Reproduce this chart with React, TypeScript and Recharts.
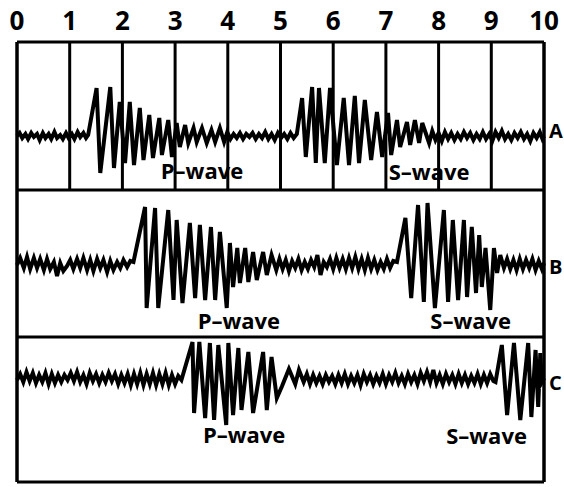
import { LineChart, Line, XAxis, YAxis, CartesianGrid, ReferenceLine, ReferenceDot } from "recharts";

// seconds along the top scale
const seconds = [0, 1, 2, 3, 4, 5, 6, 7, 8, 9, 10];

// station traces: [time (s), ground motion]
const stationA: [number, number][] = [
  [0, 0], [0.05, 3], [0.1, -2], [0.16, 2], [0.21, -3], [0.27, 3], [0.32, -1], [0.38, 2], [0.43, -4], [0.49, 3],
  [0.54, -2], [0.6, 2], [0.65, -3], [0.71, 4], [0.76, -2], [0.82, 1], [0.87, -3], [0.93, 3], [0.98, -2], [1.04, 2],
  [1.09, -3], [1.15, 4], [1.2, -1], [1.26, 3], [1.31, -2], [1.35, 1],
  // P-wave
  [1.51, 48], [1.58, -37], [1.77, 49], [1.84, -32], [1.95, 34], [2.05, -27], [2.14, 34], [2.22, -29], [2.33, 28],
  [2.4, -24], [2.51, 21], [2.58, -22], [2.7, 18], [2.75, -19], [2.87, 16], [2.94, -21], [3.03, 13], [3.09, -11],
  [3.19, 11], [3.25, -7], [3.35, 8], [3.41, -6], [3.51, 8], [3.6, -7], [3.69, 6], [3.76, -6], [3.85, 8], [3.93, -6],
  [3.99, 4], [4.05, -3], [4.11, 2], [4.17, -2], [4.23, 3], [4.29, -3], [4.35, 2], [4.41, -1], [4.47, 3], [4.53, -3],
  [4.59, 2], [4.65, -2], [4.71, 4], [4.77, -3], [4.83, 2], [4.89, -4], [4.95, 3], [5.01, -2], [5.07, 2], [5.13, -3],
  [5.19, 3], [5.25, -2], [5.31, 2],
  // S-wave
  [5.41, 38], [5.48, -21], [5.6, 49], [5.67, -27], [5.73, 48], [5.84, -27], [5.94, 48], [6.07, -29], [6.2, 38],
  [6.3, -29], [6.41, 40], [6.49, -27], [6.6, 36], [6.72, -24], [6.83, 24], [6.93, -21], [7.04, 23], [7.1, -19],
  [7.21, 16], [7.27, -11], [7.4, 14], [7.46, -9], [7.55, 16], [7.63, -7], [7.69, 13], [7.82, -7],
  [7.88, 5], [7.94, -4], [8.0, 3], [8.06, -5], [8.12, 4], [8.18, -3], [8.24, 3], [8.3, -4], [8.36, 2], [8.42, -3],
  [8.48, 4], [8.54, -2], [8.6, 3], [8.66, -4], [8.72, 2], [8.78, -3], [8.84, 4], [8.9, -3], [8.96, 2], [9.02, -5],
  [9.08, 4], [9.14, -2], [9.2, 5], [9.26, -3], [9.32, 2], [9.38, -4], [9.44, 3], [9.5, -2], [9.56, 4], [9.62, -3],
  [9.68, 2], [9.74, -5], [9.8, 3], [9.86, -2], [9.92, 4], [9.97, -3], [10, 0],
];

const stationB: [number, number][] = [
  [0, 0], [0.06, 7], [0.13, -3], [0.19, 8], [0.25, -4], [0.32, 7], [0.38, -3], [0.44, 6], [0.51, -5], [0.57, 6],
  [0.63, -4], [0.7, 3], [0.76, -11], [0.82, 2], [0.88, -6], [0.95, -1], [1.01, 5], [1.07, -4], [1.14, 6], [1.2, -3],
  [1.26, 7], [1.33, -5], [1.39, 5], [1.45, -6], [1.52, 6], [1.58, -3], [1.64, 5], [1.71, -7], [1.77, 4], [1.83, -5],
  [1.9, 3], [1.96, -3], [2.02, 5], [2.09, -2], [2.15, 4], [2.21, 3],
  // P-wave
  [2.43, 58], [2.46, -43], [2.62, 57], [2.68, -43], [2.87, 55], [2.97, -35], [3.03, 45], [3.14, -38], [3.28, 42],
  [3.38, -33], [3.47, 40], [3.57, -35], [3.68, 38], [3.76, -35], [3.85, 33], [3.98, -43], [4.04, 22], [4.1, -22],
  [4.18, 17], [4.23, -18], [4.33, 17], [4.39, -17], [4.48, 13], [4.55, -15], [4.67, 13], [4.74, -10], [4.83, 10],
  [4.92, -5], [4.98, 6], [5.04, -4], [5.1, 5], [5.16, -6], [5.22, 4], [5.28, -3], [5.34, 6], [5.4, -5], [5.46, 3],
  [5.52, -4], [5.58, 5], [5.64, -2], [5.7, 10], [5.76, -10], [5.82, 3], [5.88, -2], [5.94, 6], [6.0, -4], [6.06, 7],
  [6.12, -3], [6.18, 6], [6.24, -4], [6.3, 7], [6.36, -3], [6.42, 8], [6.48, -4], [6.54, 6], [6.6, -5], [6.66, 7],
  [6.72, -4], [6.78, 5], [6.84, -5], [6.9, 3], [6.96, -4], [7.02, 6], [7.08, -3], [7.14, 4], [7.21, 3],
  // S-wave
  [7.37, 47], [7.48, -33], [7.61, 60], [7.72, -37], [7.79, 62], [7.93, -43], [8.1, 55], [8.18, -37], [8.27, 45],
  [8.37, -35], [8.48, 45], [8.54, -32], [8.63, 38], [8.71, -28], [8.77, 30], [8.82, -22], [8.89, 17], [8.98, -45],
  [9.05, 17], [9.11, -8], [9.17, 10], [9.24, -3], [9.3, 6], [9.36, -4], [9.42, 5], [9.48, -5], [9.54, 6], [9.6, -4],
  [9.66, 5], [9.72, -3], [9.78, 6], [9.84, -5], [9.9, 4], [9.96, -4], [10, 2],
];

const stationC: [number, number][] = [
  [0, -2], [0.06, 4], [0.12, -4], [0.18, 6], [0.24, -3], [0.3, 5], [0.36, -5], [0.42, 3], [0.48, -4], [0.54, 5],
  [0.6, -6], [0.66, 4], [0.72, -5], [0.78, 3], [0.84, -4], [0.9, 3], [0.96, -2], [1.02, 5], [1.08, -3], [1.14, 6],
  [1.2, -4], [1.26, 3], [1.32, -6], [1.38, 5], [1.44, -3], [1.5, 4], [1.56, -5], [1.62, 3], [1.68, -4], [1.74, 5],
  [1.8, -3], [1.86, 4], [1.92, -6], [1.98, 3], [2.04, -5], [2.1, 4], [2.16, -7], [2.22, 4], [2.28, -6], [2.34, 5],
  [2.4, -7], [2.46, 4], [2.52, -6], [2.58, 5], [2.64, -7], [2.7, 4], [2.76, -6], [2.82, 5], [2.88, -7], [2.94, 3],
  [3.0, -6], [3.06, 2], [3.12, -2],
  // P-wave
  [3.33, 36], [3.36, -35], [3.46, 36], [3.57, -40], [3.66, 35], [3.74, -42], [3.82, 33], [3.97, -47], [4.01, 35],
  [4.1, -37], [4.2, 30], [4.26, -32], [4.39, 26], [4.48, -35], [4.67, 26], [4.74, -32], [4.83, 21], [4.93, -20],
  [5.03, -8], [5.16, 9], [5.28, -6], [5.35, 8], [5.44, -4],
  [5.5, 4], [5.56, -6], [5.62, 3], [5.68, -5], [5.74, 2], [5.8, -6], [5.86, 3], [5.92, -4], [5.98, 2], [6.04, -6],
  [6.1, 3], [6.16, -5], [6.22, 4], [6.28, -6], [6.34, 2], [6.4, -5], [6.46, 3], [6.52, -7], [6.58, 4], [6.64, -4],
  [6.7, 3], [6.76, -6], [6.82, 2], [6.88, -5], [6.94, 4], [7.0, -6], [7.06, 3], [7.12, -4], [7.18, 5], [7.24, -5],
  [7.3, 2], [7.36, -6], [7.42, 4], [7.48, -4], [7.54, 3], [7.6, -6], [7.66, 5], [7.72, -3], [7.78, 6], [7.84, -4],
  [7.9, 8], [7.96, -5], [8.02, 3], [8.08, -6], [8.14, 4], [8.2, -4], [8.26, 3], [8.32, -6], [8.38, 4], [8.44, -5],
  [8.5, 3], [8.56, -6], [8.62, 2], [8.68, -5], [8.74, 4], [8.8, -6], [8.86, 3], [8.92, -5], [8.98, 4], [9.04, -3],
  [9.08, -4],
  // S-wave
  [9.2, 33], [9.3, -37], [9.43, 35], [9.55, -42], [9.7, 35], [9.76, -39], [9.84, 28], [9.89, -29], [9.93, 25],
  [9.96, -4], [10, 0],
];

const stationNames = ["A", "B", "C"];
// where the phase captions sit: [P time, P level, S time, S level]
const captionA = [3.51, -35, 7.82, -36];
const captionB = [4.21, -56, 8.61, -56];
const captionC = [4.31, -57, 8.91, -58];
const nameLevel = [5, -2, -5];

const font = { fontFamily: "'Open Sans', sans-serif", fontWeight: 700, fill: "#000" };

type BandProps = {
  points: [number, number][];
  domain: [number, number];
  height: number;
  axisHeight: number;
  bottom: number;
  name: string;
  nameY: number;
  caption: number[];
};

function Band({ points, domain, height, axisHeight, bottom, name, nameY, caption }: BandProps) {
  const rows = points.map(([t, v]) => ({ t, v }));
  return (
    <LineChart width={564} height={height} data={rows} margin={{ top: 0, right: 20, bottom, left: 17 }}>
      <XAxis
        dataKey="t"
        type="number"
        domain={[0, 10]}
        ticks={seconds}
        orientation="top"
        height={axisHeight}
        axisLine={false}
        tickLine={false}
        tickSize={10}
        tickMargin={2}
        tick={axisHeight > 0 ? { ...font, fontSize: 26 } : false}
        interval={0}
      />
      <YAxis type="number" domain={domain} hide allowDataOverflow />
      <CartesianGrid horizontal={false} stroke="#000" strokeWidth={3} strokeOpacity={1} />
      <ReferenceLine x={0} stroke="#000" strokeWidth={3} />
      <ReferenceLine x={10} stroke="#000" strokeWidth={3} />
      <ReferenceLine y={domain[0]} stroke="#000" strokeWidth={3} />
      <ReferenceLine y={domain[1]} stroke="#000" strokeWidth={3} />
      <Line
        dataKey="v"
        type="linear"
        stroke="#000"
        strokeWidth={4}
        dot={false}
        isAnimationActive={false}
      />
      <ReferenceDot x={caption[0]} y={caption[1]} r={0} stroke="none" fill="none"
        label={{ value: "P–wave", position: "center", ...font, fontSize: 22 }} />
      <ReferenceDot x={caption[2]} y={caption[3]} r={0} stroke="none" fill="none"
        label={{ value: "S–wave", position: "center", ...font, fontSize: 22 }} />
      <ReferenceDot x={10} y={nameY} r={0} stroke="none" fill="none"
        label={{ value: name, position: "right", offset: 5, ...font, fontSize: 20 }} />
    </LineChart>
  );
}

export default function App() {
  return (
    <div style={{ position: "absolute", left: 0, top: 0, width: 564, height: 487, background: "#fff", overflow: "hidden" }}>
      <Band points={stationA} domain={[-54, 94]} height={190} axisHeight={42} bottom={0}
        name={stationNames[0]} nameY={nameLevel[0]} caption={captionA} />
      <Band points={stationB} domain={[-72, 75]} height={147} axisHeight={0} bottom={0}
        name={stationNames[1]} nameY={nameLevel[1]} caption={captionB} />
      <Band points={stationC} domain={[-104, 41]} height={150} axisHeight={0} bottom={5}
        name={stationNames[2]} nameY={nameLevel[2]} caption={captionC} />
    </div>
  );
}
